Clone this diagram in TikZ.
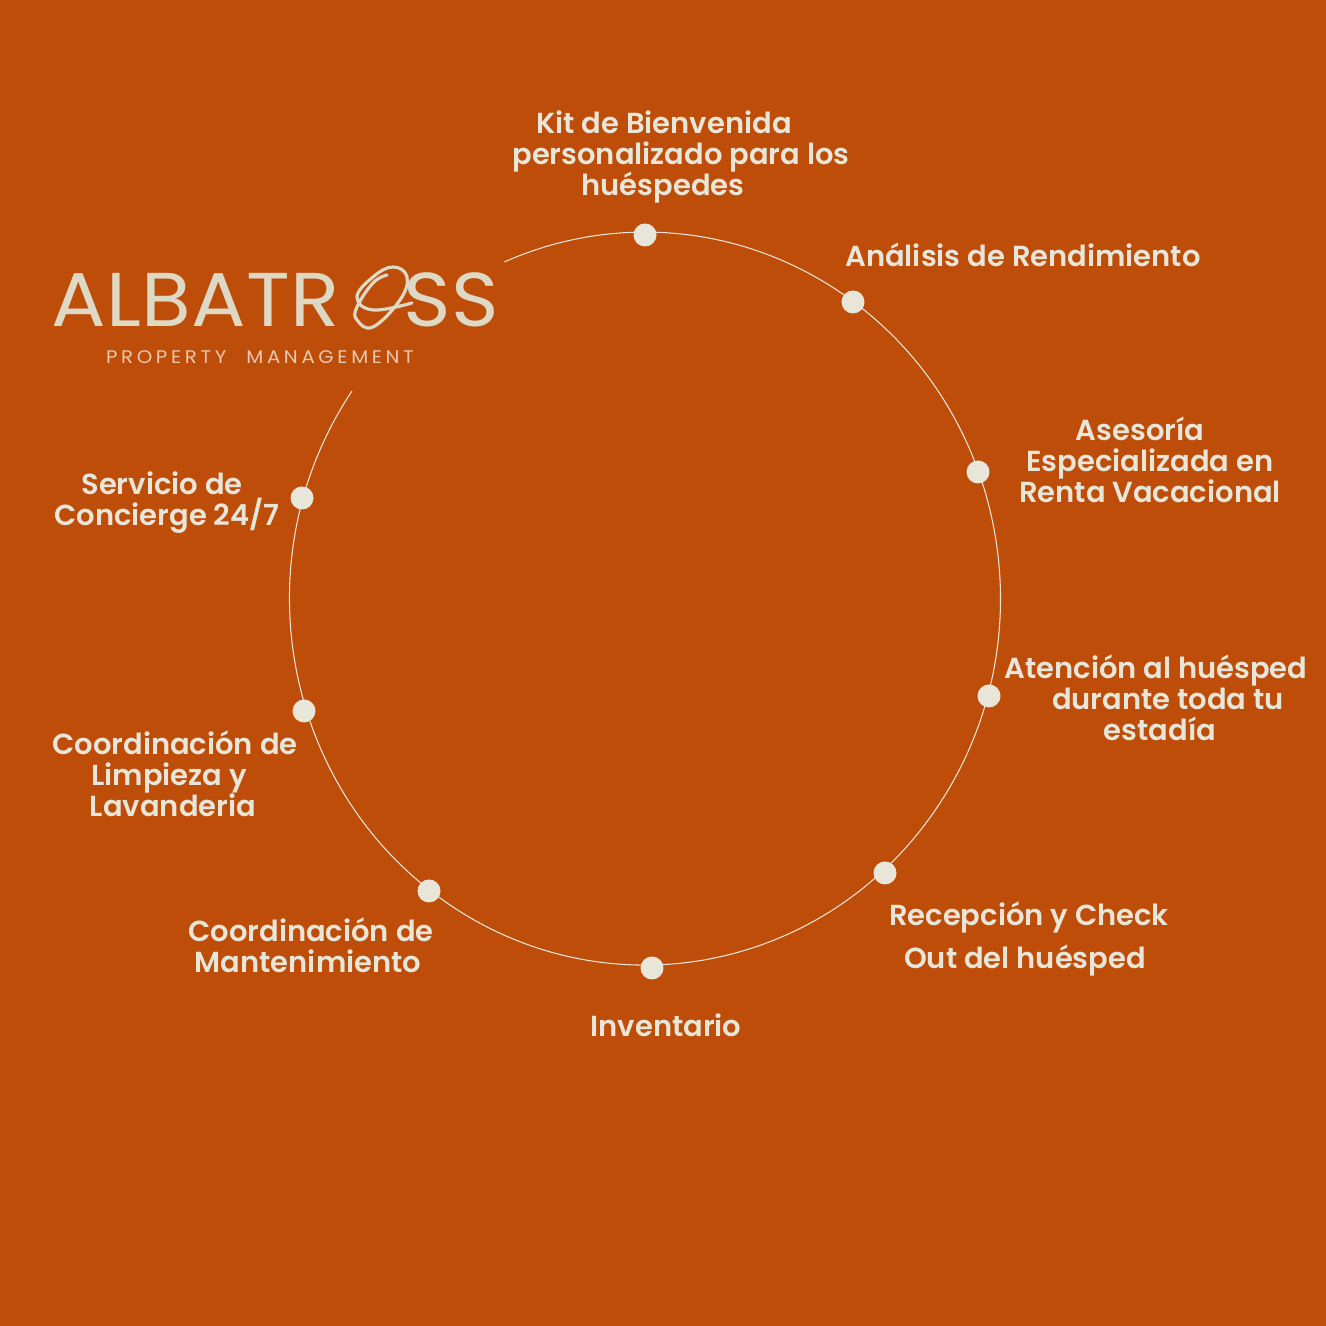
\documentclass[tikz,border=0pt]{standalone}
\usepackage{fontspec}
\setmainfont{Poppins}[BoldFont={Poppins SemiBold}]
\newfontfamily\logofont{Poppins}[FakeStretch=1.06,LetterSpace=0.5]
\newfontfamily\subfont{Poppins}[FakeStretch=1.08,LetterSpace=20]
\definecolor{AlbaOrange}{HTML}{BE4D09}
\definecolor{AlbaCream}{HTML}{E8E6D9}
\definecolor{AlbaLogo}{HTML}{DDD9C4}
\definecolor{AlbaSub}{HTML}{EAC8AE}
\newcommand{\labfont}{\fontsize{8.25}{8.8}\selectfont\bfseries\lineskiplimit=-6pt\relax}
\begin{document}
\begin{tikzpicture}[
  dot/.style={circle,fill=AlbaCream,inner sep=0pt,minimum size=2.3mm},
  lab/.style={text=AlbaCream,align=center,inner sep=0pt,font=\labfont},
  ring/.style={draw=AlbaCream,line width=0.3pt}
]
\fill[AlbaOrange] (0,0) rectangle (13.26,13.26);
% ring with its gap behind the logo
\coordinate (gapend) at (3.52,9.35);
\draw[ring] (gapend) arc[start angle=145.5,end angle=473.3,x radius=3.555,y radius=3.665];
% dots
\node[dot] (kit) at (6.45,10.91) {};
\node[dot] (ana) at (8.53,10.24) {};
\node[dot] (ase) at (9.78,8.54) {};
\node[dot] (ate) at (9.89,6.30) {};
\node[dot] (rec) at (8.85,4.53) {};
\node[dot] (inv) at (6.52,3.58) {};
\node[dot] (man) at (4.29,4.35) {};
\node[dot] (lim) at (3.04,6.15) {};
\node[dot] (con) at (3.02,8.28) {};
% labels
\node[lab] (kitl) at (6.81,11.69) {\hspace*{-0.34cm}Kit de Bienvenida\\personalizado para los\\\hspace*{-0.36cm}huéspedes};
\node[lab] (anal) at (10.23,10.71) {Análisis de Rendimiento};
\node[lab] (asel) at (11.50,8.66) {\hspace*{-0.2cm}Asesoría\\Especializada en\\Renta Vacacional};
\node[lab] (atel) at (11.60,6.28) {\hspace*{-0.08cm}Atención al huésped\\\hspace*{0.16cm}durante toda tu\\estadía};
\node[lab] (recl) at (10.29,3.87) {Recepción y Check\\[3.4pt]\hspace*{-0.08cm}Out del huésped};
\node[lab] (invl) at (6.66,3.01) {Inventario};
\node[lab] (manl) at (3.11,3.81) {Coordinación de\\\hspace*{-0.06cm}Mantenimiento};
\node[lab] (liml) at (1.75,5.52) {Coordinación de\\\hspace*{-0.12cm}Limpieza y\\\hspace*{-0.04cm}Lavanderia};
\node[lab] (conl) at (1.67,8.23) {\hspace*{-0.1cm}Servicio de\\Concierge 24/7};
% logo
\node[text=AlbaLogo,inner sep=0pt,font=\fontsize{21.7}{22}\logofont] (logo) at (2.75,10.26) {ALBATR\textcolor{AlbaOrange}{O}SS};
\node[text=AlbaSub,inner sep=0pt,font=\fontsize{5.2}{5.2}\subfont] (sub) at (2.60,9.69) {PROPERTY\hspace{2mm}MANAGEMENT};
\draw[AlbaLogo,line width=0.9pt,line cap=round] plot[smooth,tension=0.7] coordinates {(4.12,10.23) (3.73,10.16) (3.57,10.29) (3.73,10.49) (3.93,10.59) (4.07,10.49) (4.00,10.26) (3.73,9.99) (3.57,10.06) (3.57,10.19) (3.73,10.43) (3.87,10.51)};
\end{tikzpicture}
\end{document}
